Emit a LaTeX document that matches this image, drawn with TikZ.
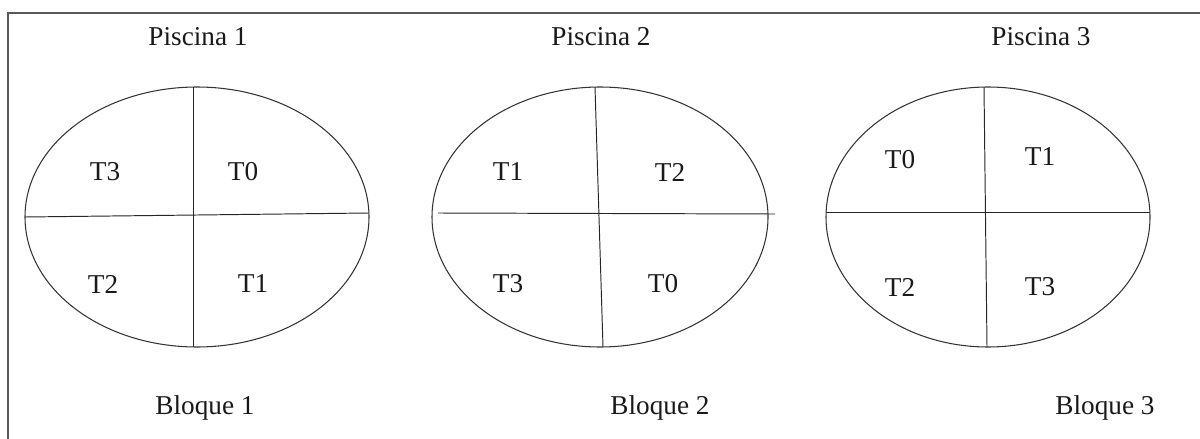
\documentclass[tikz,border=0pt]{standalone}
\usepackage{fontspec}
\setmainfont{Liberation Serif}
\begin{document}
\begin{tikzpicture}[x=0.02cm, y=-0.02cm,
    pool/.style={draw=black!80, line width=0.6pt},
    divider/.style={draw=black!85, line width=0.55pt},
    lbl/.style={font=\fontsize{15.5}{18}\selectfont, inner sep=0pt, text=black!90}]
    \useasboundingbox (0,0) rectangle (1200,439);
    \draw[black!65, line width=1.1pt] (8,440) -- (8,13) -- (1201,13);
    % piscina 1
    \draw[pool] (197,217) ellipse (172 and 130);
    \draw[divider] (193,87) -- (193,347);
    \draw[divider] (25,217) -- (369,213);
    \node[lbl] (pis1) at (198,37) {Piscina 1};
    \node[lbl] (t31) at (105,172) {T3};
    \node[lbl] (t01) at (243,172) {T0};
    \node[lbl] (t21) at (103,284) {T2};
    \node[lbl] (t11) at (253,284) {T1};
    \node[lbl] (blq1) at (205,408) {Bloque 1};
    % piscina 2
    \draw[pool] (600,217) ellipse (168 and 130);
    \draw[divider] (595,87) -- (603,347);
    \draw[divider] (438,213) -- (775,214);
    \node[lbl] (pis2) at (601,37) {Piscina 2};
    \node[lbl] (t12) at (508,172) {T1};
    \node[lbl] (t22) at (670,172) {T2};
    \node[lbl] (t32) at (508,284) {T3};
    \node[lbl] (t02) at (663,284) {T0};
    \node[lbl] (blq2) at (660,408) {Bloque 2};
    % piscina 3
    \draw[pool] (988,217) ellipse (162 and 130);
    \draw[divider] (984,87) -- (987,347);
    \draw[divider] (826,212) -- (1150,212);
    \node[lbl] (pis3) at (1041,37) {Piscina 3};
    \node[lbl] (t03) at (900,160) {T0};
    \node[lbl] (t13) at (1040,157) {T1};
    \node[lbl] (t23) at (900,287) {T2};
    \node[lbl] (t33) at (1040,287) {T3};
    \node[lbl] (blq3) at (1105,408) {Bloque 3};
\end{tikzpicture}
\end{document}
